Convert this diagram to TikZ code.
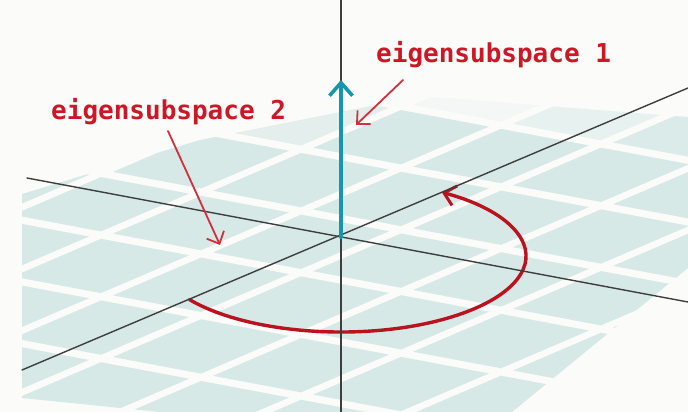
\documentclass[tikz,border=0pt]{standalone}
\usepackage{fontspec}
\newfontfamily\labelfont{DejaVu Sans Mono}
\usetikzlibrary{arrows.meta}
\definecolor{paper}{RGB}{251,251,249}
\definecolor{tile}{RGB}{214,233,231}
\definecolor{axisgray}{RGB}{62,62,62}
\definecolor{eigteal}{RGB}{22,150,172}
\definecolor{eigred}{RGB}{204,24,38}
\definecolor{rotred}{RGB}{186,18,30}
\tikzset{
  axisline/.style={axisgray,line width=1.4pt},
  eiglabel/.style={font=\labelfont\bfseries\fontsize{26}{30}\selectfont,text=eigred,inner sep=0pt,anchor=base west},
  pointer/.style={eigred!90,line width=1.8pt,-{Straight Barb[length=10pt,width=19pt,line width=1.8pt]}},
}
\begin{document}
\begin{tikzpicture}[x=1pt,y=-1pt,line cap=round]
    \fill[paper] (0,0) rectangle (688,412);
    \useasboundingbox (0,0) rectangle (688,412);
    \coordinate (O) at (341,237);
    \begin{scope}
      \clip (22,194) -- (200,140) -- (420,96) -- (688,117) -- (688,268) -- (512,412) -- (160,412) -- (22,398) -- cycle;
      \begin{scope}[shift={(O)},x={(1pt,-0.188pt)},y={(1pt,0.429pt)}]
        \foreach \i in {-5,...,5}{
          \foreach \j in {-5,...,4}{
            \pgfmathsetmacro\fade{min(1,max(0,(237+0.188*(\i*100+50)-0.429*(\j*100+50)-92)/55))}
            \fill[tile,opacity=\fade] (\i*100+36,\j*100+36) -- ++(88,0) -- ++(0,88) -- ++(-88,0) -- cycle;
          }
        }
      \end{scope}
    \end{scope}
    \coordinate (ax1w) at (27,178);
    \coordinate (ax1e) at (688,302);
    \coordinate (ax2w) at (22,370);
    \coordinate (ax2e) at (688,88);
    \coordinate (ax3n) at (341,0);
    \coordinate (ax3s) at (341,412);
    \coordinate (rotstart) at (189.5,299.6);
    \draw[rotred,line width=3.4pt,-{Straight Barb[length=11pt,width=20pt,line width=3pt]}] (rotstart) arc[start angle=145,end angle=-57,x radius=185,y radius=76];
    \draw[axisline] (ax1w) -- (ax1e);
    \draw[axisline] (ax2w) -- (ax2e);
    \draw[axisline] (ax3n) -- (ax3s);
    \coordinate (vtip) at (341,80);
    \draw[eigteal,line width=4pt,-{Straight Barb[length=13pt,width=23pt,line width=3.6pt]}] (O) -- (vtip);
    \node[eiglabel] (lab1) at (376,63) {eigensubspace 1};
    \node[eiglabel] (lab2) at (51,119) {eigensubspace 2};
    \coordinate (tail1) at (403,80);
    \coordinate (tip1) at (356,125);
    \coordinate (tail2) at (168,131);
    \coordinate (tip2) at (220,245);
    \draw[pointer] (tail1) -- (tip1);
    \draw[pointer] (tail2) -- (tip2);
\end{tikzpicture}
\end{document}
